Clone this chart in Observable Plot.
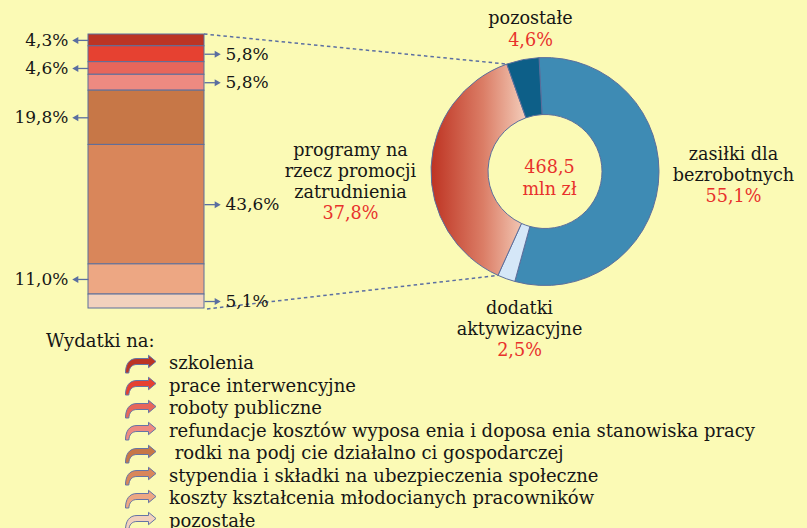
<!DOCTYPE html>
<html><head><meta charset="utf-8">
<script src="https://cdn.jsdelivr.net/npm/d3@7"></script>
<script src="https://cdn.jsdelivr.net/npm/@observablehq/plot@0.6"></script>
<style>
html,body{margin:0;padding:0;background:#FBFAB5;}
#wrap{position:relative;width:807px;height:528px;overflow:hidden;background:#FBFAB5;font-family:"DejaVu Serif",serif;color:#161616;}
#chart{position:absolute;left:0;top:0;}
#legend{position:absolute;left:0;top:0;width:807px;height:528px;}
.lg-title{position:absolute;left:46px;font-size:18px;line-height:22px;white-space:pre;}
.lg-item{position:absolute;left:125px;height:22px;font-size:18px;line-height:22px;white-space:pre;}
.lg-item svg{position:absolute;left:0;top:2.5px;overflow:visible;}
.lg-item span{position:absolute;left:44px;top:0;}
</style></head><body>
<div id="wrap"><div id="chart"></div><div id="legend"></div></div>
<script>
// ---------- DATA ----------
const barCats = [
  "szkolenia",
  "prace interwencyjne",
  "roboty publiczne",
  "refundacje kosztów wyposa enia i doposa enia stanowiska pracy",
  " rodki na podj cie działalno ci gospodarczej",
  "stypendia i składki na ubezpieczenia społeczne",
  "koszty kształcenia młodocianych pracowników",
  "pozostałe"
];
const barValues = [4.3, 5.8, 4.6, 5.8, 19.8, 43.6, 11.0, 5.1];
const barColors = ["#BC3424", "#E64131", "#E7665B", "#EE8A81", "#C77747", "#D9865A", "#EDA783", "#F2D1BD"];

const donutCats = ["zasiłki dla\nbezrobotnych", "dodatki\naktywizacyjne", "programy na\nrzecz promocji\nzatrudnienia", "pozostałe"];
const donutValues = [55.1, 2.5, 37.8, 4.6];
const donutColors = ["#3E8BB4", "#D5E7F8", "url(#progGrad)", "#0D5F88"];
const totalLabel = ["468,5", "mln zł"];
const legendTitle = "Wydatki na:";

// ---------- LAYOUT / STYLE ----------
const RED = "#E8312C", INK = "#161616", EDGE = "#5B6E9C";
const FONT = "DejaVu Serif";
const D = {cx: 545, cy: 171.5, r0: 57, r1: 114, start: -3 * Math.PI / 180};
const DETAIL = 2; // donut slice broken down in the bar
const LBL = [{x: 733, y: 163}, {x: 519, y: 317}, {x: 350, y: 169.5}, {x: 530, y: 17}];
const LINE = 21, PCT_GAP = 21.5, LFS = 17.6;

const fmt = v => v.toFixed(1).replace(".", ",") + "%";

// stacked table (bottom to top cumulative)
const bars = barCats.map((cat, i) => ({cat, value: barValues[i], color: barColors[i], i}));
let acc = 0;
const stacked = bars.slice().reverse().map(d => {
  const y1 = acc; acc += d.value;
  return {...d, y1, y2: acc, mid: (y1 + acc) / 2};
}).reverse();
const leftLbl = stacked.filter(d => d.i % 2 === 0);
const rightLbl = stacked.filter(d => d.i % 2 === 1);

const donut = donutCats.map((cat, i) => ({cat, value: donutValues[i], color: donutColors[i]}));

function donutRender(index, scales) {
  const g = d3.create("svg:g");
  const lg = g.append("defs").append("linearGradient").attr("id", "progGrad")
    .attr("x1", 0).attr("y1", 0).attr("x2", 1).attr("y2", 0);
  lg.append("stop").attr("offset", 0).attr("stop-color", "#BE3322");
  lg.append("stop").attr("offset", 0.55).attr("stop-color", "#DB7D66");
  lg.append("stop").attr("offset", 1).attr("stop-color", "#F4CDBA");
  const arcs = d3.pie().sort(null).value(d => d.value)
    .startAngle(D.start).endAngle(D.start + 2 * Math.PI)(donut);
  const arc = d3.arc().innerRadius(D.r0).outerRadius(D.r1);
  const P = a => [D.cx + D.r1 * Math.sin(a), D.cy - D.r1 * Math.cos(a)];
  const det = arcs[DETAIL];
  const bx = scales.x(1);
  const links = [
    [[bx, scales.y(100)], P(det.endAngle)],
    [[bx + 3, scales.y(0) + 1], P(det.startAngle)]
  ];
  g.append("g").selectAll("line").data(links).join("line")
    .attr("x1", d => d[0][0]).attr("y1", d => d[0][1])
    .attr("x2", d => d[1][0]).attr("y2", d => d[1][1])
    .attr("stroke", "#5B6EA2").attr("stroke-width", 1.5).attr("stroke-dasharray", "3.5,3");
  g.append("g").attr("transform", `translate(${D.cx},${D.cy})`)
    .selectAll("path").data(arcs).join("path")
    .attr("d", arc).attr("fill", d => d.data.color)
    .attr("stroke", EDGE).attr("stroke-width", 1);
  return g.node();
}

const donutLabels = donut.flatMap((d, k) => {
  const n = d.cat.split("\n").length;
  const common = {frameAnchor: "top-left", lineAnchor: "middle", dx: LBL[k].x, textAnchor: "middle", fontSize: LFS, fontFamily: FONT, lineHeight: LINE / LFS};
  return [
    Plot.text([d], {...common, dy: LBL[k].y, text: "cat", fill: INK}),
    Plot.text([d], {...common, dy: LBL[k].y + (n - 1) / 2 * LINE + PCT_GAP, text: r => fmt(r.value), fill: RED})
  ];
});

const ARROW = "#5A6EA0";
const chart = Plot.plot({
  width: 807,
  height: 330,
  margin: 0,
  x: {domain: [0, 1], range: [88, 204], axis: null},
  y: {domain: [0, 100], range: [308, 34], axis: null},
  color: {type: "identity"},
  style: {background: "transparent", fontFamily: FONT, fontSize: "17px", color: INK, overflow: "visible"},
  marks: [
    donutRender,
    Plot.rectY(stacked, {x1: 0, x2: 1, y1: "y1", y2: "y2", fill: "color", stroke: EDGE, strokeWidth: 1}),
    Plot.link(leftLbl, {x1: 0, x2: -0.09, y1: "mid", y2: "mid", stroke: ARROW, strokeWidth: 1.3}),
    Plot.dot(leftLbl, {x: -0.105, y: "mid", symbol: "triangle", r: 2.6, fill: ARROW, stroke: "none", rotate: -90}),
    Plot.link(rightLbl, {x1: 1, x2: 1.09, y1: "mid", y2: "mid", stroke: ARROW, strokeWidth: 1.3}),
    Plot.dot(rightLbl, {x: 1.105, y: "mid", symbol: "triangle", r: 2.6, fill: ARROW, stroke: "none", rotate: 90}),
    Plot.text(leftLbl, {x: 0, y: "mid", dx: -20, text: d => fmt(d.value), textAnchor: "end", fontSize: 17, fill: INK}),
    Plot.text(rightLbl, {x: 1, y: "mid", dx: 21, text: d => fmt(d.value), textAnchor: "start", fontSize: 17, fill: INK}),
    ...donutLabels,
    Plot.text([totalLabel.join("\n")], {frameAnchor: "top-left", lineAnchor: "middle", dx: 549, dy: 176, text: d => d, textAnchor: "middle", fontSize: LFS, lineHeight: 22 / LFS, fill: RED})
  ]
});
document.getElementById("chart").appendChild(chart);

// ---------- LEGEND ----------
const legend = document.getElementById("legend");
const t = document.createElement("div");
t.className = "lg-title"; t.style.top = "330px"; t.textContent = legendTitle;
legend.appendChild(t);
const ICON = "M0.5,18 C0.5,9.5 4,3.5 12,3.5 L23.5,3.5 L23.5,0.3 L31,6.5 L23.5,12.7 L23.5,9.5 L12,9.5 C7,9.5 4.2,12.5 3.8,18 Z";
barCats.forEach((c, i) => {
  const row = document.createElement("div");
  row.className = "lg-item";
  row.style.top = (352 + i * 22.5) + "px";
  row.innerHTML = `<svg width="32" height="19"><path d="${ICON}" fill="${barColors[i]}" stroke="#6474A6" stroke-width="1"/></svg><span></span>`;
  row.querySelector("span").textContent = c;
  legend.appendChild(row);
});
</script>
</body></html>
